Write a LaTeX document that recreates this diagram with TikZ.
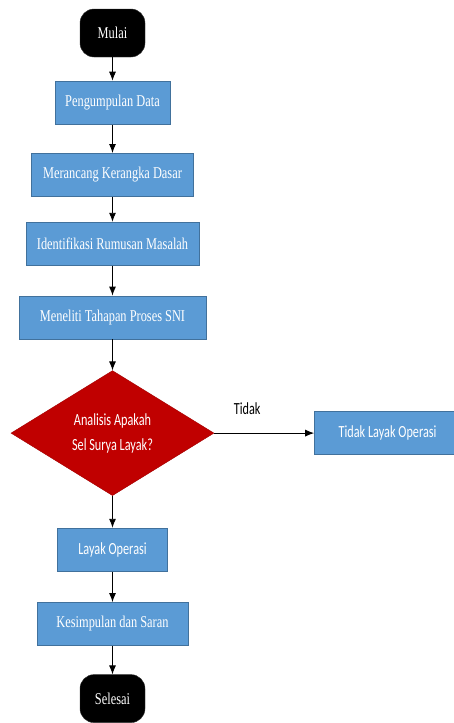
\documentclass[tikz,border=0pt]{standalone}
\usepackage{fontspec}
\usetikzlibrary{arrows.meta}
\usetikzlibrary{positioning}
\usetikzlibrary{shapes.geometric}
\newfontfamily\serifbox[FakeStretch=0.75]{Liberation Serif}
\newfontfamily\sansbox[FakeStretch=0.72]{Carlito}
\definecolor{boxblue}{HTML}{5B9BD5}
\definecolor{boxedge}{HTML}{41719C}
\definecolor{decred}{HTML}{C00000}
\newcommand{\serifteks}{\serifbox\fontsize{16.5}{20}\selectfont}
\newcommand{\sansteks}{\sansbox\fontsize{17}{25}\selectfont}

\begin{document}
\begin{tikzpicture}[x=1pt, y=-1pt,
                    every node/.style={inner sep=0pt, text=white},
                    proses/.style={draw=boxedge, fill=boxblue, line width=0.8pt,
                                   minimum height=43pt, font=\serifteks},
                    terminal/.style={draw=black!80, fill=black, rounded corners=14pt,
                                     minimum width=65pt, minimum height=48pt, font=\serifteks},
                    keputusan/.style={diamond, aspect=1.62, draw=decred!85!black, fill=decred,
                                      minimum width=203pt, minimum height=125pt,
                                      align=center, font=\sansteks},
                    panah/.style={-{Latex[length=9pt, width=7pt]}, line width=0.9pt}]

    \useasboundingbox (0,0) rectangle (453,723);

    \node[terminal] (mulai) at (112.5,33) {Mulai};
    \node[proses, minimum width=115pt, below=23.5pt of mulai] (data) {Pengumpulan Data};
    \node[proses, minimum width=162pt, below=28.5pt of data] (kerangka) {Merancang Kerangka Dasar};
    \node[proses, minimum width=173pt, below=25pt of kerangka] (rumusan) {Identifikasi Rumusan Masalah};
    \node[proses, minimum width=187pt, below=30pt of rumusan] (sni) {Meneliti Tahapan Proses SNI};
    \node[keputusan, below=31pt of sni] (analisis) {Analisis Apakah\\Sel Surya Layak?};
    \node[proses, minimum width=146pt, font=\sansteks, right=100pt of analisis] (tidak) {Tidak Layak Operasi};
    \node[proses, minimum width=110pt, font=\sansteks, below=32pt of analisis] (layak) {Layak Operasi};
    \node[proses, minimum width=151pt, below=30.5pt of layak] (saran) {Kesimpulan dan Saran};
    \node[terminal, below=28.5pt of saran] (selesai) {Selesai};

    \draw[panah] (mulai) -- (data);
    \draw[panah] (data) -- (kerangka);
    \draw[panah] (kerangka) -- (rumusan);
    \draw[panah] (rumusan) -- (sni);
    \draw[panah] (sni) -- (analisis);
    \draw[panah] (analisis.east) -- node[pos=0.33, above=18pt, text=black, font=\sansteks] {Tidak} (tidak.west);
    \draw[panah] (analisis) -- (layak);
    \draw[panah] (layak) -- (saran);
    \draw[panah] (saran) -- (selesai);
\end{tikzpicture}
\end{document}
